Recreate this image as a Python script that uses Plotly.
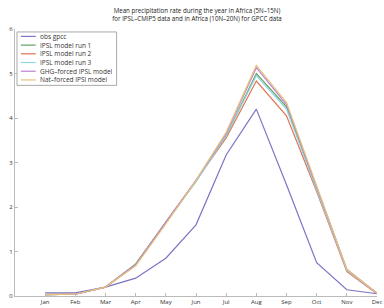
import plotly.graph_objects as go

months = ["Jan", "Feb", "Mar", "Apr", "May", "Jun", "Jul", "Aug", "Sep", "Oct", "Nov", "Dec"]
month_pos = list(range(1, 13))

obs_gpcc = [0.07, 0.07, 0.2, 0.4, 0.85, 1.6, 3.17, 4.2, 2.5, 0.75, 0.14, 0.05]
ipsl_run1 = [0.03, 0.04, 0.2, 0.72, 1.66, 2.58, 3.6, 5.0, 4.25, 2.4, 0.58, 0.06]
ipsl_run2 = [0.03, 0.04, 0.2, 0.7, 1.65, 2.6, 3.55, 4.83, 4.05, 2.35, 0.55, 0.05]
ipsl_run3 = [0.03, 0.04, 0.2, 0.7, 1.64, 2.57, 3.6, 4.95, 4.2, 2.4, 0.57, 0.06]
ghg_forced = [0.03, 0.04, 0.2, 0.7, 1.66, 2.6, 3.65, 5.13, 4.3, 2.45, 0.6, 0.06]
nat_forced = [0.03, 0.04, 0.2, 0.68, 1.62, 2.6, 3.68, 5.18, 4.35, 2.45, 0.6, 0.06]

names = ["obs gpcc", "IPSL model run 1", "IPSL model run 2", "IPSL model run 3",
         "GHG–forced IPSL model", "Nat–forced IPSl model"]
colors = ["#7b74c4", "#5fa35f", "#e0734f", "#8fd3e6", "#c07fcf", "#e6c27a"]
values = [obs_gpcc, ipsl_run1, ipsl_run2, ipsl_run3, ghg_forced, nat_forced]

W, H = 384, 308
L, R, T, B = 15, 2, 29, 9
font = "Open Sans, Liberation Sans, sans-serif"

def px(xp):
    return (xp - L) / (W - L - R)

def py(yp):
    return (H - B - yp) / (H - T - B)

fig = go.Figure()
for name, vals, col in zip(names, values, colors):
    fig.add_trace(go.Scatter(x=month_pos, y=vals, mode="lines", name=name,
                             line=dict(color=col, width=1.2), showlegend=False))

# legend drawn as a boxed key
shapes = [dict(type="rect", xref="paper", yref="paper",
               x0=px(17), x1=px(118), y0=py(86), y1=py(32),
               line=dict(color="#aaa", width=1), fillcolor="white", layer="above")]
annotations = []
row_y = [36.5, 45.3, 54.1, 62.9, 71.7, 80.5]
for name, col, ry in zip(names, colors, row_y):
    shapes.append(dict(type="line", xref="paper", yref="paper",
                       x0=px(21), x1=px(36), y0=py(ry), y1=py(ry),
                       line=dict(color=col, width=1.2), layer="above"))
    annotations.append(dict(text=name, xref="paper", yref="paper",
                            x=px(38), y=py(ry), xanchor="left", yanchor="middle",
                            showarrow=False,
                            font=dict(family=font, size=6.5, color="#333")))

fig.update_layout(
    width=W, height=H,
    margin=dict(l=L, r=R, t=T, b=B),
    paper_bgcolor="white", plot_bgcolor="white",
    font=dict(family=font, size=6, color="#333"),
    title=dict(
        text="Mean precipitation rate during the year in Africa (5N–15N)<br>for IPSL–CMIP5 data and in Africa (10N–20N) for GPCC data",
        x=197 / W, xanchor="center", xref="container",
        y=1 - 13 / H, yanchor="middle", yref="container",
        font=dict(family=font, size=6.2, color="#222"),
    ),
    showlegend=False,
    shapes=shapes,
    annotations=annotations,
    xaxis=dict(
        range=[0, 12], tickvals=month_pos, ticktext=months,
        showgrid=False, zeroline=False, showline=True, linecolor="#bbb", linewidth=1,
        ticks="inside", ticklen=3, tickcolor="#bbb", ticklabeloverflow="allow",
        tickfont=dict(family=font, size=6, color="#333"),
    ),
    yaxis=dict(
        range=[0, 6], tickvals=[0, 1, 2, 3, 4, 5, 6],
        showgrid=False, zeroline=False, showline=True, linecolor="#bbb", linewidth=1,
        ticks="inside", ticklen=3, tickcolor="#bbb", ticklabeloverflow="allow",
        tickfont=dict(family=font, size=6, color="#333"),
    ),
)

page_fix = (
    "var s=document.createElement('style');"
    "s.textContent='html,body{margin:0!important;padding:0!important;overflow:hidden!important;"
    "width:384px;height:308px;}';"
    "document.head.appendChild(s);"
    "document.body.style.margin='0';"
)

fig.write_html("out.html", config={"displayModeBar": False}, post_script=page_fix)
